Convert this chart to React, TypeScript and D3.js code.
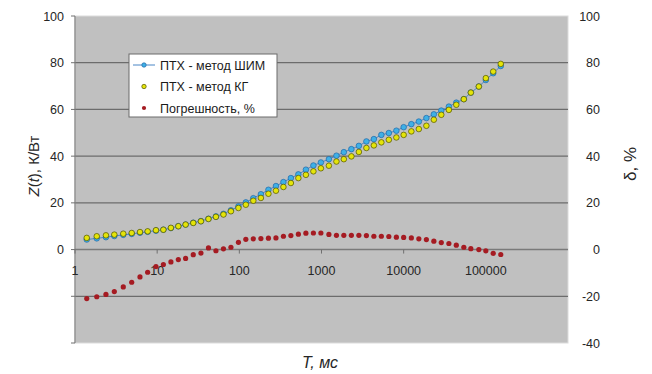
import { useRef, useEffect } from "react";
import * as d3 from "d3";

// T, ms
const times = [
  1.39, 1.84, 2.38, 3.01, 3.87, 4.9, 6.18, 7.66, 9.67, 11.9, 14.7, 18.1, 22.2, 27.5, 34.1,
  42.1, 51.9, 64.1, 79, 97.5, 120, 148, 183, 226, 279, 344, 424, 523, 646, 797, 983,
  1230, 1520, 1870, 2310, 2850, 3520, 4340, 5350, 6600, 8150, 10000, 12400, 15300, 18900,
  23300, 28700, 35500, 43700, 54000, 65700, 82200, 100000, 123000, 152000,
];

// Z(t), K/W — PWM method
const zPwm = [
  4.3, 4.8, 5.3, 5.8, 6.3, 6.7, 7.2, 7.6, 8.1, 8.5, 9.2, 10.0, 10.7, 11.5, 12.2,
  13.2, 14.2, 15.3, 16.8, 18.5, 20.2, 22.0, 23.7, 25.6, 27.2, 28.9, 30.6, 32.2, 34.2, 36.0, 37.3,
  38.7, 40.2, 41.7, 43.0, 44.4, 46.3, 47.3, 49.1, 49.9, 50.9, 52.4, 53.7, 54.8, 56.3,
  57.9, 59.5, 61.2, 62.9, 64.4, 67.2, 69.8, 72.6, 75.5, 78.6,
];

// Z(t), K/W — KG method
const zKg = [
  5.0, 5.7, 6.1, 6.4, 6.8, 7.1, 7.5, 7.8, 8.3, 8.5, 9.3, 10.0, 10.7, 11.4, 12.1,
  13.1, 14.0, 15.0, 16.4, 17.8, 19.2, 20.9, 22.1, 23.9, 25.2, 26.8, 28.5, 30.6, 32.0, 33.5, 34.8,
  35.9, 37.7, 38.7, 39.9, 41.8, 43.5, 44.6, 45.9, 47.0, 48.0, 49.1, 50.6, 51.6, 53.0,
  55.6, 57.7, 59.8, 62.0, 64.4, 67.2, 69.8, 73.4, 76.2, 79.5,
];

// error, %
const errPct = [
  -21.0, -20.2, -19.2, -18.0, -16.0, -14.0, -11.7, -9.7, -7.3, -6.4, -5.3, -4.3, -3.8, -2.2, -1.5,
  0.7, -0.5, 0.3, 1.0, 3.1, 4.4, 4.6, 4.7, 4.9, 5.0, 5.7, 6.0, 6.6, 7.0, 7.1, 7.1,
  6.5, 6.1, 6.1, 6.1, 6.1, 6.0, 5.7, 5.7, 5.6, 5.3, 5.2, 5.0, 4.6, 4.3,
  3.6, 3.0, 2.6, 1.9, 1.0, 0.4, 0.0, -0.5, -1.6, -2.1,
];

const yTicks = [-40, -20, 0, 20, 40, 60, 80, 100];
const xTicks = [1, 10, 100, 1000, 10000, 100000];
const legendLabels = ["ПТХ - метод ШИМ", "ПТХ - метод КГ", "Погрешность, %"];

const W = 652;
const H = 374;
const FONT = "'Liberation Sans', Arial, sans-serif";

export default function App() {
  const svgRef = useRef<SVGSVGElement>(null);

  useEffect(() => {
    if (!svgRef.current) return;
    const svg = d3.select(svgRef.current);
    svg.selectAll("*").remove();

    const left = 75, right = 568, top = 16, bottom = 343;
    const x = d3.scaleLog().domain([1, 1e6]).range([left, right]);
    const y = d3.scaleLinear().domain([-40, 100]).range([bottom, top]);

    // plot area
    svg.append("rect")
      .attr("x", left).attr("y", top)
      .attr("width", right - left).attr("height", bottom - top)
      .attr("fill", "#c0c0c0")
      .attr("stroke", "#dcdcdc");

    // grid
    svg.append("g")
      .selectAll("line")
      .data(yTicks.filter((d) => d > -40 && d < 100 && d !== 0))
      .join("line")
      .attr("x1", left).attr("x2", right)
      .attr("y1", (d) => y(d)).attr("y2", (d) => y(d))
      .attr("stroke", "#6c6c6c")
      .attr("stroke-width", 1.2);

    // left axis
    const la = svg.append("g");
    la.append("line")
      .attr("x1", left).attr("x2", left).attr("y1", top).attr("y2", bottom)
      .attr("stroke", "#808080").attr("stroke-width", 1.2);
    la.selectAll("line.t")
      .data(yTicks)
      .join("line")
      .attr("class", "t")
      .attr("x1", left - 4).attr("x2", left)
      .attr("y1", (d) => y(d)).attr("y2", (d) => y(d))
      .attr("stroke", "#707070");
    la.selectAll("text")
      .data(yTicks.filter((d) => d >= 0))
      .join("text")
      .attr("x", 64).attr("y", (d) => y(d) + 4.5)
      .attr("text-anchor", "end")
      .style("font-family", FONT).style("font-size", "12.5px").style("fill", "#262626")
      .text((d) => d);

    // right axis labels
    svg.append("g")
      .selectAll("text")
      .data(yTicks)
      .join("text")
      .attr("x", 600).attr("y", (d) => y(d) + 4.5)
      .attr("text-anchor", "end")
      .style("font-family", FONT).style("font-size", "12.5px").style("fill", "#262626")
      .text((d) => d);

    // x axis at 0
    const xa = svg.append("g");
    xa.append("line")
      .attr("x1", left).attr("x2", right).attr("y1", y(0)).attr("y2", y(0))
      .attr("stroke", "#7a7a7a").attr("stroke-width", 1.5);
    xa.selectAll("line.t")
      .data(xTicks)
      .join("line")
      .attr("class", "t")
      .attr("x1", (d) => x(d)).attr("x2", (d) => x(d))
      .attr("y1", y(0)).attr("y2", y(0) + 4)
      .attr("stroke", "#707070");
    xa.selectAll("text")
      .data(xTicks)
      .join("text")
      .attr("x", (d) => x(d)).attr("y", y(0) + 25)
      .attr("text-anchor", "middle")
      .style("font-family", FONT).style("font-size", "12.5px").style("fill", "#262626")
      .text((d) => d);

    const pts = times.map((t, i) => ({ t, pwm: zPwm[i], kg: zKg[i], err: errPct[i] }));

    // PWM line + markers
    svg.append("path")
      .datum(pts)
      .attr("fill", "none")
      .attr("stroke", "#4a86c5")
      .attr("stroke-width", 1)
      .attr("d", d3.line<typeof pts[0]>().x((d) => x(d.t)).y((d) => y(d.pwm)));
    svg.append("g")
      .selectAll("circle")
      .data(pts)
      .join("circle")
      .attr("cx", (d) => x(d.t)).attr("cy", (d) => y(d.pwm))
      .attr("r", 2.8)
      .attr("fill", "#3fb0e6").attr("stroke", "#2167a8").attr("stroke-width", 0.7);

    // KG markers
    svg.append("g")
      .selectAll("circle")
      .data(pts)
      .join("circle")
      .attr("cx", (d) => x(d.t)).attr("cy", (d) => y(d.kg))
      .attr("r", 2.8)
      .attr("fill", "#e4e40a").attr("stroke", "#4f5200").attr("stroke-width", 0.7);

    // error markers
    svg.append("g")
      .selectAll("circle")
      .data(pts)
      .join("circle")
      .attr("cx", (d) => x(d.t)).attr("cy", (d) => y(d.err))
      .attr("r", 2.6)
      .attr("fill", "#a51b22");

    // legend
    const lg = svg.append("g").attr("transform", "translate(129,54)");
    lg.append("rect")
      .attr("width", 148).attr("height", 63)
      .attr("fill", "#ffffff").attr("stroke", "#6a6a6a").attr("stroke-width", 1);
    legendLabels.forEach((lab, i) => {
      const cy = 11 + i * 21.5;
      if (i === 0) {
        lg.append("line")
          .attr("x1", 4).attr("x2", 26).attr("y1", cy).attr("y2", cy)
          .attr("stroke", "#4a86c5").attr("stroke-width", 1);
        lg.append("circle").attr("cx", 15).attr("cy", cy).attr("r", 2.2)
          .attr("fill", "#3fb0e6").attr("stroke", "#2167a8").attr("stroke-width", 0.7);
      } else if (i === 1) {
        lg.append("circle").attr("cx", 15).attr("cy", cy).attr("r", 2.2)
          .attr("fill", "#e4e40a").attr("stroke", "#4f5200").attr("stroke-width", 0.7);
      } else {
        lg.append("circle").attr("cx", 15).attr("cy", cy).attr("r", 2.1).attr("fill", "#a51b22");
      }
      lg.append("text")
        .attr("x", 31).attr("y", cy + 4.5)
        .style("font-family", FONT).style("font-size", "12.5px").style("fill", "#1a1a1a")
        .text(lab);
    });

    // axis titles
    const yt = svg.append("text")
      .attr("transform", "translate(39,166) rotate(-90)")
      .attr("text-anchor", "middle")
      .style("font-family", FONT).style("font-size", "15px").style("fill", "#262626");
    yt.append("tspan").style("font-style", "italic").text("Z");
    yt.append("tspan").text("(");
    yt.append("tspan").style("font-style", "italic").text("t");
    yt.append("tspan").text("), К/Вт");

    svg.append("text")
      .attr("transform", "translate(636,164) rotate(-90)")
      .attr("text-anchor", "middle")
      .style("font-family", FONT).style("font-size", "17px").style("fill", "#262626")
      .text("δ, %");

    svg.append("text")
      .attr("x", 320).attr("y", 368)
      .attr("text-anchor", "middle")
      .style("font-family", FONT).style("font-size", "16px").style("font-style", "italic").style("fill", "#262626")
      .text("T, мс");
  }, []);

  return (
    <svg
      ref={svgRef}
      width={W}
      height={H}
      style={{ position: "absolute", left: 0, top: 0, background: "#ffffff" }}
    />
  );
}
